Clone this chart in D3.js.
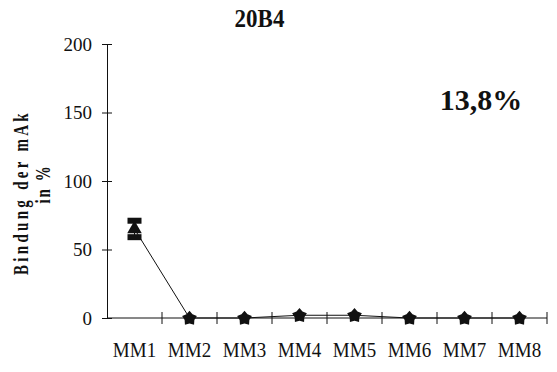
<!DOCTYPE html>
<html>
<head>
<meta charset="utf-8">
<script src="https://cdn.jsdelivr.net/npm/d3@7"></script>
<style>
  body { margin: 0; background: #fff; }
  svg { display: block; }
  text { font-family: "Liberation Serif", "Times New Roman", serif; fill: #111; }
</style>
</head>
<body>
<svg id="chart" width="557" height="372"></svg>
<script>
// Binding of the antibody per sample
const categories = ["MM1", "MM2", "MM3", "MM4", "MM5", "MM6", "MM7", "MM8"];
const values = [65, 0, 0, 2, 2, 0, 0, 0];
const errors = [6, 0, 0, 0, 0, 0, 0, 0];
const markers = ["triangle", "star", "star", "star", "star", "star", "star", "star"];
const yTicks = [0, 50, 100, 150, 200];
const chartTitle = "20B4";
const percentLabel = "13,8%";

const svg = d3.select("#chart");
const plot = { left: 107, right: 547, top: 44, bottom: 318 };

const x = d3.scaleBand().domain(categories).range([plot.left, plot.right]);
const y = d3.scaleLinear().domain([0, 200]).range([plot.bottom, plot.top]);

// y axis, ticks crossing the line
const yAxis = svg.append("g").attr("transform", `translate(${plot.left},0)`)
  .call(d3.axisLeft(y).tickValues(yTicks).tickSize(10).tickSizeOuter(0).tickPadding(6));
yAxis.select(".domain").attr("stroke", "#111");
yAxis.selectAll(".tick line").attr("stroke", "#111").attr("x2", -5).attr("x1", 5);
yAxis.selectAll(".tick text").attr("font-size", 19).attr("font-family", "Liberation Serif").attr("fill", "#111").attr("x", -15);

// x axis with ticks crossing the baseline at band boundaries
const xg = svg.append("g").attr("transform", `translate(0,${plot.bottom})`);
xg.append("line").attr("x1", plot.left).attr("x2", plot.right).attr("stroke", "#111");
xg.selectAll("line.tk").data(categories).join("line").attr("class", "tk")
  .attr("x1", d => x(d) + x.bandwidth()).attr("x2", d => x(d) + x.bandwidth())
  .attr("y1", -6).attr("y2", 6).attr("stroke", "#111");
xg.selectAll("g.lbl").data(categories).join("g").attr("class", "lbl")
  .attr("transform", d => `translate(${x(d) + x.bandwidth() / 2},39) scale(1,1.15)`)
  .append("text").attr("text-anchor", "middle").attr("font-size", 19).text(d => d);

// connecting line
const cx = d => x(d) + x.bandwidth() / 2;
const line = d3.line().x(d => cx(d.c)).y(d => y(d.v));
const pts = categories.map((c, i) => ({ c, v: values[i], e: errors[i], m: markers[i] }));
svg.append("path").datum(pts).attr("d", line).attr("fill", "none").attr("stroke", "#111").attr("stroke-width", 1);

// error bars with heavy caps
pts.filter(d => d.e > 0).forEach(d => {
  const g = svg.append("g");
  g.append("line").attr("x1", cx(d.c)).attr("x2", cx(d.c)).attr("y1", y(d.v + d.e)).attr("y2", y(d.v - d.e)).attr("stroke", "#111");
  [d.v + d.e, d.v - d.e].forEach(v => {
    g.append("rect").attr("x", cx(d.c) - 7).attr("y", y(v) - 3).attr("width", 14).attr("height", 6).attr("fill", "#111");
  });
});

// plump five-pointed star
const fatStar = {
  draw(ctx, size) {
    const R = Math.sqrt(size) / 2, r = R * 0.66;
    for (let i = 0; i < 10; i++) {
      const a = -Math.PI / 2 + i * Math.PI / 5;
      const rr = i % 2 ? r : R;
      const px = rr * Math.cos(a), py = rr * Math.sin(a);
      if (i === 0) ctx.moveTo(px, py); else ctx.lineTo(px, py);
    }
    ctx.closePath();
  }
};

// markers
svg.selectAll("path.mk").data(pts).join("path").attr("class", "mk")
  .attr("transform", d => `translate(${cx(d.c)},${y(d.v) + (d.m === "star" ? 0.5 : 0)})`)
  .attr("d", d => d3.symbol().type(d.m === "triangle" ? d3.symbolTriangle : fatStar).size(d.m === "triangle" ? 92 : 240)())
  .attr("fill", "#111");

// titles
svg.append("g").attr("transform", "translate(259.5,27) scale(1,1.1)")
  .append("text").attr("text-anchor", "middle")
  .attr("font-size", 23).attr("font-weight", "bold").text(chartTitle);
svg.append("text").attr("x", 481).attr("y", 110).attr("text-anchor", "middle")
  .attr("font-size", 30).attr("font-weight", "bold").text(percentLabel);

// y axis title, two rotated lines with wide letter spacing
svg.append("g").attr("transform", "translate(28,192.5) rotate(-90) scale(1,1.35)")
  .append("text").attr("text-anchor", "middle")
  .attr("font-size", 15).attr("font-weight", "bold").attr("letter-spacing", 3.3).text("Bindung der mAk");
svg.append("g").attr("transform", "translate(50,184) rotate(-90) scale(1,1.35)")
  .append("text").attr("text-anchor", "middle")
  .attr("font-size", 15).attr("font-weight", "bold").attr("letter-spacing", 2).text("in %");
</script>
</body>
</html>
